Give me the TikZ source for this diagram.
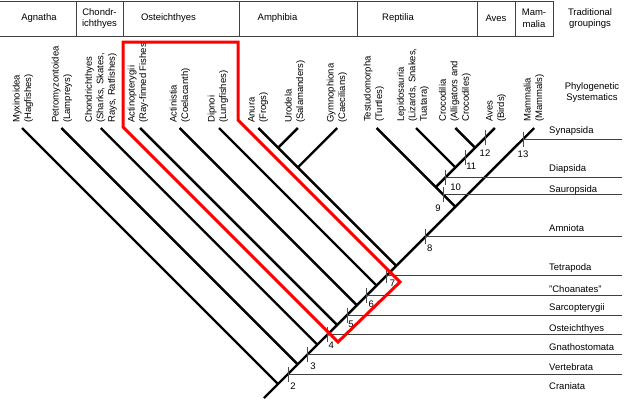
\documentclass[tikz,border=0pt]{standalone}
\usepackage{fontspec}
\setmainfont{Liberation Sans}
\usetikzlibrary{positioning,calc}

\begin{document}
\begin{tikzpicture}[
    x=1pt, y=-1pt,
    font=\fontsize{9.5}{11.5}\selectfont,
    hdrline/.style={draw=black!75, line width=0.8pt},
    hdr/.style={align=center, inner sep=0pt},
    taxon/.style={rotate=90, anchor=west, align=left, inner sep=0pt},
    branch/.style={line width=2.4pt, black},
    tickmark/.style={line width=0.8pt, black!70},
    grpline/.style={line width=0.7pt, black!75},
    clade/.style={anchor=base west, inner sep=0pt},
    numlbl/.style={inner sep=0pt},
    redbox/.style={draw=red, line width=3pt, line join=miter}
]

\useasboundingbox (0,0) rectangle (630,400);

% Traditional groupings (header row)
\draw[hdrline] (-2,1) rectangle (553,36);
\draw[hdrline] (76,1) -- (76,36);
\draw[hdrline] (123,1) -- (123,36);
\draw[hdrline] (239,1) -- (239,36);
\draw[hdrline] (357,1) -- (357,36);
\draw[hdrline] (477,1) -- (477,36);
\draw[hdrline] (515,1) -- (515,36);

\node[hdr] (agnatha) at (39,18.5) {Agnatha};
\node[hdr] (chondr) at (99.5,18.5) {Chondr-\\ichthyes};
\node[hdr] (osteich) at (168.5,18.5) {Osteichthyes};
\node[hdr] (amphib) at (277.5,18.5) {Amphibia};
\node[hdr] (reptil) at (398,18.5) {Reptilia};
\node[hdr] (aves) at (496,18.5) {Aves};
\node[hdr] (mammal) at (534,18.5) {Mam-\\malia};
\node[hdr] (tradit) at (590,18.5) {Traditional\\groupings};
\node[hdr] (phylo) at (592,92.5) {Phylogenetic\\Systematics};

% Terminal taxa
\node[taxon] (myx) at (23,123) {Myxinoidea\\(Hagfishes)};
\node[taxon] (pet) at (62,123) {Petromyzontoidea\\(Lampreys)};
\node[taxon] (cho) at (101,123) {Chondrichthyes\\(Sharks, Skates,\\Rays, Ratfishes)};
\node[taxon] (act) at (138,123) {Actinopterygii\\(Ray-finned Fishes};
\node[taxon] (coe) at (180,123) {Actinistia\\(Coelacanth)};
\node[taxon] (dip) at (218,123) {Dipnoi\\(Lungfishes)};
\node[taxon] (anu) at (258,123) {Anura\\(Frogs)};
\node[taxon] (uro) at (295,123) {Urodela\\(Salamanders)};
\node[taxon] (gym) at (337,123) {Gymnophiona\\(Caecilians)};
\node[taxon] (tes) at (374,122) {Testudomorpha\\(Turtles)};
\node[taxon] (lep) at (413,122) {Lepidosauria\\(Lizards, Snakes,\\Tuatara)};
\node[taxon] (cro) at (455,122) {Crocodilia\\(Alligators and\\Crocodiles)};
\node[taxon] (ave) at (496,122) {Aves\\(Birds)};
\node[taxon] (mam) at (534,122) {Mammalia\\(Mammals)};

% Branch tips
\coordinate (tMyx) at (22,128);
\coordinate (tPet) at (61.4,128);
\coordinate (tCho) at (100.8,128);
\coordinate (tAct) at (140.2,128);
\coordinate (tCoe) at (179.6,128);
\coordinate (tDip) at (219,128);
\coordinate (tAnu) at (258.4,128);
\coordinate (tUro) at (297.8,128);
\coordinate (tGym) at (337.2,128);
\coordinate (tTes) at (376.6,128);
\coordinate (tLep) at (416,128);
\coordinate (tCro) at (455.4,128);
\coordinate (tAve) at (494.8,128);
\coordinate (tMam) at (534.2,128);

% Branching points
\coordinate (root) at (264,398);
\coordinate (jMyx) at (278,384);
\coordinate (jPet) at (297.7,364.3);
\coordinate (jCho) at (317.4,344.6);
\coordinate (jAct) at (337.1,324.9);
\coordinate (jCoe) at (356.8,305.2);
\coordinate (jDip) at (376.5,285.5);
\coordinate (jAmp) at (396.2,265.8);
\coordinate (jRep) at (455.3,206.7);
\coordinate (jUro) at (278.1,147.7);
\coordinate (jGym) at (297.8,167.4);
\coordinate (jTes) at (435.7,187.1);
\coordinate (jLep) at (455.4,167.4);
\coordinate (jCro) at (475.1,147.7);

% Tree
\draw[branch] (root) -- (tMam);
\draw[branch] (tMyx) -- (jMyx);
\draw[branch] (tPet) -- (jPet);
\draw[branch] (tCho) -- (jCho);
\draw[branch] (tAct) -- (jAct);
\draw[branch] (tCoe) -- (jCoe);
\draw[branch] (tDip) -- (jDip);
\draw[branch] (tAnu) -- (jAmp);
\draw[branch] (tUro) -- (jUro);
\draw[branch] (tGym) -- (jGym);
\draw[branch] (tTes) -- (jRep);
\draw[branch] (tLep) -- (jLep);
\draw[branch] (tCro) -- (jCro);
\draw[branch] (tAve) -- (jTes);

% Numbered nodes
\coordinate (rim) at (622,0);
\coordinate (n2) at (287.9,374.2);
\coordinate (n3) at (307.6,354.5);
\coordinate (n4) at (327.3,334.8);
\coordinate (n5) at (347,315);
\coordinate (n6) at (366.7,295.4);
\coordinate (n7) at (386.4,275.7);
\coordinate (n8) at (425.8,236.3);
\coordinate (n9) at (443,194.4);
\coordinate (n10) at (445.6,177.3);
\coordinate (n11) at (465.3,157.6);
\coordinate (n12) at (485,137.8);
\coordinate (n13) at (523,139.2);

% Group lines
\draw[grpline] (n2) -- (n2 -| rim);
\draw[grpline] (n3) -- (n3 -| rim);
\draw[grpline] (n4) -- (n4 -| rim);
\draw[grpline] (n5) -- (n5 -| rim);
\draw[grpline] (n6) -- (n6 -| rim);
\draw[grpline] (n7) -- (n7 -| rim);
\draw[grpline] (n8) -- (n8 -| rim);
\draw[grpline] (n9) -- (n9 -| rim);
\draw[grpline] (n10) -- (n10 -| rim);
\draw[grpline] (n13) -- (n13 -| rim);

% Ticks
\draw[tickmark] ($(n2)+(0,-7.5)$) -- ($(n2)+(0,7.5)$);
\draw[tickmark] ($(n3)+(0,-7.5)$) -- ($(n3)+(0,7.5)$);
\draw[tickmark] ($(n4)+(0,-7.5)$) -- ($(n4)+(0,7.5)$);
\draw[tickmark] ($(n5)+(0,-7.5)$) -- ($(n5)+(0,7.5)$);
\draw[tickmark] ($(n6)+(0,-7.5)$) -- ($(n6)+(0,7.5)$);
\draw[tickmark] ($(n7)+(0,-7.5)$) -- ($(n7)+(0,7.5)$);
\draw[tickmark] ($(n8)+(0,-7.5)$) -- ($(n8)+(0,7.5)$);
\draw[tickmark] ($(n9)+(0,-7.5)$) -- ($(n9)+(0,7.5)$);
\draw[tickmark] ($(n10)+(0,-7.5)$) -- ($(n10)+(0,7.5)$);
\draw[tickmark] ($(n11)+(0,-7.5)$) -- ($(n11)+(0,7.5)$);
\draw[tickmark] ($(n12)+(0,-7.5)$) -- ($(n12)+(0,7.5)$);
\draw[tickmark] ($(n13)+(0,-7.5)$) -- ($(n13)+(0,7.5)$);

\node[numlbl] (l2) at ($(n2)+(5,12)$) {2};
\node[numlbl] (l3) at ($(n3)+(5.5,11.5)$) {3};
\node[numlbl] (l4) at ($(n4)+(4,10)$) {4};
\node[numlbl] (l5) at ($(n5)+(4,9.5)$) {5};
\node[numlbl] (l6) at ($(n6)+(4.5,9)$) {6};
\node[numlbl] (l7) at ($(n7)+(6,8)$) {7};
\node[numlbl] (l8) at ($(n8)+(4,12)$) {8};
\node[numlbl] (l9) at ($(n9)+(-5,14)$) {9};
\node[numlbl] (l10) at ($(n10)+(10,10)$) {10};
\node[numlbl] (l11) at ($(n11)+(6,8.5)$) {11};
\node[numlbl] (l12) at ($(n12)+(0,15)$) {12};
\node[numlbl] (l13) at ($(n13)+(0,15)$) {13};

% Phylogenetic groups
\node[clade] (synap) at (549,133.5) {Synapsida};
\node[clade] (diaps) at (549,171.5) {Diapsida};
\node[clade] (saurop) at (549,192.5) {Sauropsida};
\node[clade] (amniot) at (549,231.5) {Amniota};
\node[clade] (tetrap) at (549,270.5) {Tetrapoda};
\node[clade] (choan) at (549,292.5) {''Choanates''};
\node[clade] (sarco) at (549,310.5) {Sarcopterygii};
\node[clade] (osteo) at (549,331.5) {Osteichthyes};
\node[clade] (gnath) at (549,350.5) {Gnathostomata};
\node[clade] (verteb) at (549,370.5) {Vertebrata};
\node[clade] (crani) at (549,389.5) {Craniata};

% Osteichthyes outline
\draw[redbox] (123,42) -- (238,42) -- (238,120) -- (400,282) -- (338,342) -- (123,127) -- cycle;

\end{tikzpicture}
\end{document}
